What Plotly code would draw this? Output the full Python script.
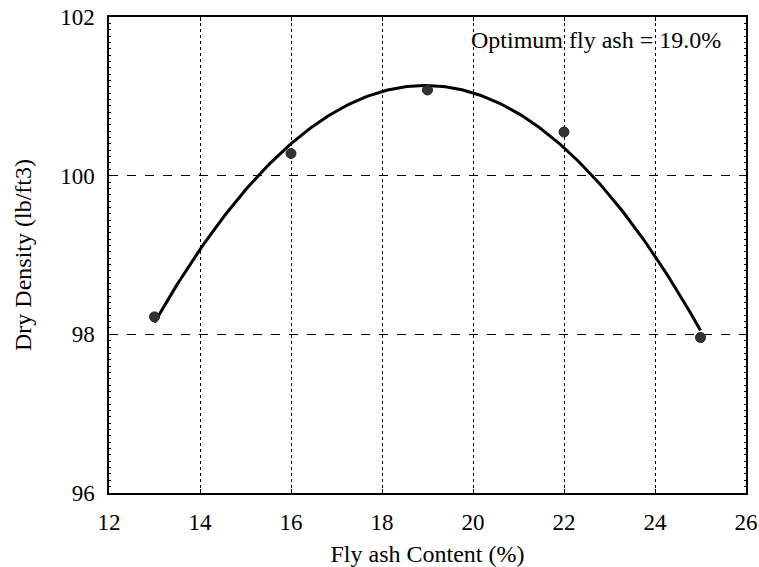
import numpy as np
import plotly.graph_objects as go

fly_ash = [13, 16, 19, 22, 25]
dry_density = [98.22, 100.28, 101.08, 100.55, 97.96]
x_ticks = [12, 14, 16, 18, 20, 22, 24, 26]
y_ticks = [96, 98, 100, 102]
annotation_text = "Optimum fly ash = 19.0%"

# quadratic trend fitted to the data points
coef = np.polyfit(fly_ash, dry_density, 2)
xf = np.linspace(min(fly_ash), max(fly_ash), 200)
yf = np.polyval(coef, xf)

FONT = "Liberation Serif"

fig = go.Figure()
fig.add_trace(go.Scatter(x=xf, y=yf, mode="lines",
                         line=dict(color="black", width=3), hoverinfo="skip"))
fig.add_trace(go.Scatter(x=fly_ash, y=dry_density, mode="markers",
                         marker=dict(size=10, color="#333333",
                                     line=dict(color="#222222", width=1))))

fig.add_annotation(x=25.5, y=101.71, xref="x", yref="y", text=annotation_text,
                   showarrow=False, xanchor="right", yanchor="middle",
                   font=dict(family=FONT, size=24, color="black"))

fig.update_layout(
    width=759, height=567,
    margin=dict(l=109, r=13, t=17, b=74),
    plot_bgcolor="white", paper_bgcolor="white",
    showlegend=False,
    font=dict(family=FONT, color="black"),
)
fig.update_xaxes(
    range=[12, 26], tickvals=x_ticks, ticks="inside", ticklen=4,
    tickcolor="black", showline=True, linecolor="black", linewidth=1.5,
    mirror="allticks", showgrid=True, gridcolor="black", gridwidth=1,
    griddash="dot", zeroline=False, tickfont=dict(size=23, family=FONT),
    ticklabelstandoff=8, automargin=False,
    title=dict(text="Fly ash Content (%)", font=dict(size=24, family=FONT),
               standoff=15),
)
fig.update_yaxes(
    range=[96, 102], tickvals=y_ticks, ticks="inside", ticklen=4,
    tickcolor="black", showline=True, linecolor="black", linewidth=1.5,
    mirror="allticks", showgrid=True, gridcolor="black", gridwidth=1,
    griddash="dash", zeroline=False, tickfont=dict(size=23, family=FONT),
    ticklabelstandoff=8, automargin=False,
    title=dict(text="Dry Density (lb/ft3)", font=dict(size=24, family=FONT),
               standoff=22),
    minor=dict(ticks="inside", ticklen=2, dtick=0.08, tickcolor="black",
               showgrid=False),
)

fig.write_html("out.html")
